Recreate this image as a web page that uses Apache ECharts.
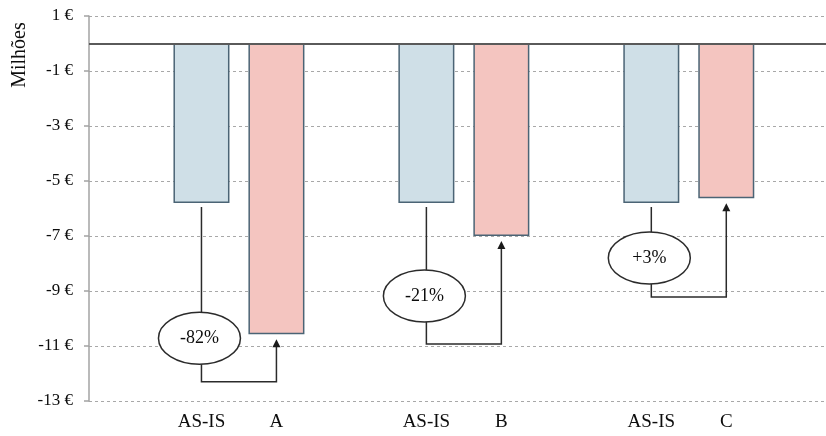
<!DOCTYPE html>
<html>
<head>
<meta charset="utf-8">
<script src="https://cdn.jsdelivr.net/npm/echarts@6/dist/echarts.min.js"></script>
<style>
  html, body { margin: 0; padding: 0; background: #ffffff; }
  #chart { width: 826px; height: 436px; }
</style>
</head>
<body>
<div id="chart"></div>
<script>
// Cost per scenario, in millions of euros
const baselineLabel = 'AS-IS';
const baselineValue = -5.8;
const scenarios = ['A', 'B', 'C'];
const scenarioValues = [-10.57, -7.0, -5.63];

// Y axis ticks (millions)
const yTicks = [1, -1, -3, -5, -7, -9, -11, -13];

// Vertical placement of each comparison bubble and its elbow connector (axis units)
const bubbleY = [-10.72, -9.18, -7.8];
const elbowY = [-12.3, -10.93, -9.22];

const SERIF = '"Liberation Serif", "Times New Roman", serif';
const BLUE = '#cfdfe7';
const PINK = '#f4c5c0';
const EDGE = '#4b6475';

// Each pair takes three slots: a spacer, the baseline bar and the scenario bar.
// The horizontal axis is open on the right, so the plot stops partway into a slot.
const X_MAX = 9.83;
const barData = [];
const pairs = [];
const labelAt = {};
scenarios.forEach((name, i) => {
  const bx = i * 3 + 1.5;
  const sx = i * 3 + 2.5;
  barData.push({ value: [bx, baselineValue], itemStyle: { color: BLUE } });
  barData.push({ value: [sx, scenarioValues[i]], itemStyle: { color: PINK } });
  labelAt[bx] = baselineLabel;
  labelAt[sx] = name;
  pairs.push([bx, sx, baselineValue, scenarioValues[i], bubbleY[i], elbowY[i]]);
});
const labelPositions = Object.keys(labelAt).map(Number);

function pctLabel(base, val) {
  const p = Math.round((val - base) / Math.abs(base) * 100);
  return (p > 0 ? '+' : '') + p + '%';
}

const chart = echarts.init(document.getElementById('chart'), null, { renderer: 'canvas' });

chart.setOption({
  animation: false,
  backgroundColor: '#ffffff',
  grid: { left: 89, right: 0, top: 16, bottom: 35, containLabel: false },
  xAxis: {
    type: 'value',
    min: 0,
    max: X_MAX,
    axisLine: { show: false, onZero: false },
    axisTick: { show: false },
    splitLine: { show: false },
    axisLabel: {
      customValues: labelPositions,
      formatter: v => labelAt[v] || '',
      margin: 12,
      color: '#0d0d0d',
      fontFamily: SERIF,
      fontSize: 19
    }
  },
  yAxis: {
    type: 'value',
    min: yTicks[yTicks.length - 1],
    max: yTicks[0],
    interval: 2,
    axisLine: { show: true, lineStyle: { color: '#a3a3a3', width: 1.5 } },
    axisTick: { show: true, length: 5, lineStyle: { color: '#a3a3a3', width: 1.5 } },
    splitLine: { show: true, lineStyle: { color: '#a8a8a8', type: [3, 3], width: 1 } },
    axisLabel: {
      margin: 16,
      color: '#0d0d0d',
      fontFamily: SERIF,
      fontSize: 17,
      formatter: v => v + ' €'
    }
  },
  graphic: [{
    type: 'text',
    x: 20,
    y: 55,
    rotation: Math.PI / 2,
    style: {
      text: 'Milhões',
      fill: '#0d0d0d',
      font: '20px ' + SERIF,
      align: 'center',
      verticalAlign: 'middle'
    }
  }],
  series: [
    {
      type: 'bar',
      data: barData,
      barWidth: 56,
      itemStyle: { borderColor: EDGE, borderWidth: 1.5 },
      markLine: {
        silent: true,
        symbol: 'none',
        label: { show: false },
        lineStyle: { color: '#5a5a5a', width: 2, type: 'solid' },
        data: [{ yAxis: 0 }]
      },
      z: 2
    },
    {
      type: 'custom',
      clip: false,
      z: 5,
      data: pairs,
      encode: { x: 0, y: 4 },
      renderItem: function (params, api) {
        const bx = api.coord([api.value(0), 0])[0];
        const sx = api.coord([api.value(1), 0])[0];
        const baseBottom = api.coord([api.value(0), api.value(2)])[1];
        const targetBottom = api.coord([api.value(1), api.value(3)])[1];
        const cy = api.coord([api.value(0), api.value(4)])[1];
        const ey = api.coord([api.value(0), api.value(5)])[1];
        const rx = 41, ry = 26;
        const tip = targetBottom + 5;
        const stroke = { stroke: '#2b2b2b', lineWidth: 1.5, fill: null };
        return {
          type: 'group',
          children: [
            { type: 'line', shape: { x1: bx, y1: baseBottom + 4, x2: bx, y2: cy - ry }, style: stroke },
            { type: 'polyline', shape: { points: [[bx, cy + ry], [bx, ey], [sx, ey], [sx, tip + 7]] }, style: stroke },
            { type: 'polygon', shape: { points: [[sx, tip], [sx - 4, tip + 8], [sx + 4, tip + 8]] }, style: { fill: '#1a1a1a' } },
            { type: 'ellipse', shape: { cx: bx - 2, cy: cy, rx: rx, ry: ry }, style: { fill: '#ffffff', stroke: '#2b2b2b', lineWidth: 1.5 } },
            {
              type: 'text',
              x: bx - 2,
              y: cy,
              style: {
                text: pctLabel(api.value(2), api.value(3)),
                fill: '#0d0d0d',
                font: '18px ' + SERIF,
                align: 'center',
                verticalAlign: 'middle'
              }
            }
          ]
        };
      }
    }
  ]
});
</script>
</body>
</html>
